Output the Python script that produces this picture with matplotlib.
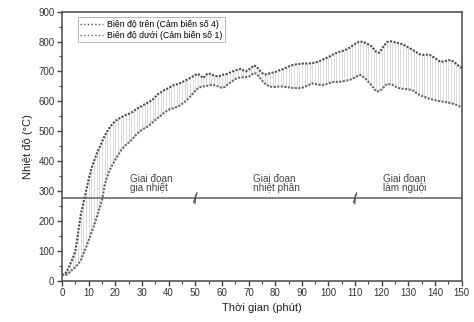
import matplotlib
matplotlib.use('Agg')
import matplotlib.pyplot as plt
from matplotlib.ticker import MultipleLocator

plt.rcParams['font.family'] = ['Liberation Sans', 'DejaVu Sans']

# time in minutes, 1 reading per minute
minutes = list(range(0, 151))

# Upper amplitude (sensor 4), degC
upper = [20, 22, 35, 55, 75, 100, 160, 220, 260, 300,
         340, 375, 400, 425, 445, 465, 485, 500, 515, 525,
         535, 540, 546, 550, 555, 558, 562, 568, 575, 580,
         585, 590, 595, 600, 606, 615, 624, 630, 636, 640,
         645, 650, 655, 657, 660, 664, 668, 673, 678, 683,
         688, 692, 685, 678, 688, 694, 690, 686, 684, 684,
         688, 690, 692, 696, 700, 703, 706, 708, 704, 700,
         706, 712, 720, 716, 705, 695, 690, 690, 694, 696,
         698, 702, 705, 708, 712, 716, 720, 722, 724, 725,
         726, 727, 726, 727, 728, 730, 732, 736, 740, 744,
         748, 753, 758, 762, 765, 768, 770, 775, 780, 786,
         792, 797, 800, 798, 795, 790, 785, 775, 765, 762,
         775, 788, 798, 801, 800, 797, 795, 793, 790, 785,
         780, 775, 770, 764, 758, 756, 755, 756, 755, 750,
         745, 738, 732, 733, 735, 737, 738, 732, 725, 718,
         712]

# Lower amplitude (sensor 1), degC
lower = [20, 18, 22, 30, 38, 45, 55, 68, 90, 112,
         136, 160, 185, 212, 240, 270, 320, 350, 372, 390,
         405, 420, 435, 445, 455, 462, 470, 480, 490, 498,
         505, 510, 515, 522, 530, 538, 545, 552, 560, 566,
         572, 575, 578, 581, 585, 591, 598, 606, 615, 625,
         635, 643, 648, 650, 650, 653, 655, 654, 652, 648,
         645, 648, 655, 662, 668, 674, 678, 680, 680, 681,
         682, 688, 695, 692, 682, 670, 660, 654, 650, 648,
         648, 649, 650, 649, 648, 647, 645, 644, 644, 644,
         645, 648, 652, 656, 660, 658, 656, 655, 655, 657,
         660, 663, 665, 665, 665, 666, 668, 670, 672, 676,
         680, 685, 688, 682, 675, 665, 655, 643, 633, 634,
         640, 650, 658, 657, 655, 650, 645, 643, 642, 641,
         640, 638, 635, 628, 622, 618, 615, 611, 608, 606,
         604, 602, 600, 599, 598, 596, 594, 591, 588, 584,
         580]

stage_temp = 278
stage_breaks = [50, 110]
stage_labels = ['Giai đoạn\ngia nhiệt', 'Giai đoạn\nnhiệt phân', 'Giai đoạn\nlàm nguội']
stage_label_x = [25.5, 71.5, 120.5]

fig = plt.figure(figsize=(4.74, 3.22), dpi=100)
ax = fig.add_axes([0.131, 0.128, 0.843, 0.836])

# band between the two sensors
ax.vlines(minutes, lower, upper, colors='#cccccc', linewidth=0.5, zorder=1)
ax.plot(minutes, upper, ls=(0, (1, 0.7)), lw=1.5, color='#4a4a4a', zorder=3,
        label='Biên độ trên (Cảm biến số 4)')
ax.plot(minutes, lower, ls=(0, (1, 0.7)), lw=1.5, color='#666666', zorder=3,
        label='Biên độ dưới (Cảm biến số 1)')

# stage line with break marks
ax.axhline(stage_temp, color='#606060', lw=1.1, zorder=2)
for b in stage_breaks:
    ax.plot([b - 0.6, b + 0.6], [stage_temp - 16, stage_temp + 16], color='#505050', lw=0.9, zorder=4)
    ax.plot([b - 0.1, b + 0.1], [stage_temp - 20, stage_temp + 8], color='#505050', lw=0.9, zorder=4)
for x, s in zip(stage_label_x, stage_labels):
    ax.text(x, stage_temp + 14, s, ha='left', va='bottom', fontsize=7.2,
            color='#444444', linespacing=1.1)

ax.set_xlim(0, 150)
ax.set_ylim(0, 900)
ax.xaxis.set_major_locator(MultipleLocator(10))
ax.xaxis.set_minor_locator(MultipleLocator(5))
ax.yaxis.set_major_locator(MultipleLocator(100))
ax.yaxis.set_minor_locator(MultipleLocator(50))
ax.tick_params(which='major', direction='out', length=3.5, width=1, colors='#444444',
               labelsize=7, pad=2, labelcolor='#333333')
ax.tick_params(which='minor', direction='out', length=2, width=0.8, colors='#444444')
for sp in ax.spines.values():
    sp.set_color('#555555')
    sp.set_linewidth(1.2)

ax.set_xlabel('Thời gian (phút)', fontsize=8, color='#222222', labelpad=3)
ax.set_ylabel('Nhiệt độ (°C)', fontsize=8, color='#222222', labelpad=4)

leg = ax.legend(loc='upper left', bbox_to_anchor=(0.035, 0.985), fontsize=6.3,
                frameon=True, fancybox=False, handlelength=2.6, handletextpad=0.4,
                borderpad=0.3, labelspacing=0.2, borderaxespad=0.2)
leg.get_frame().set_edgecolor('#999999')
leg.get_frame().set_linewidth(0.6)
for h in leg.get_lines():
    h.set_linewidth(1.0)
    h.set_linestyle(':')

fig.savefig('out.png', dpi=100)
